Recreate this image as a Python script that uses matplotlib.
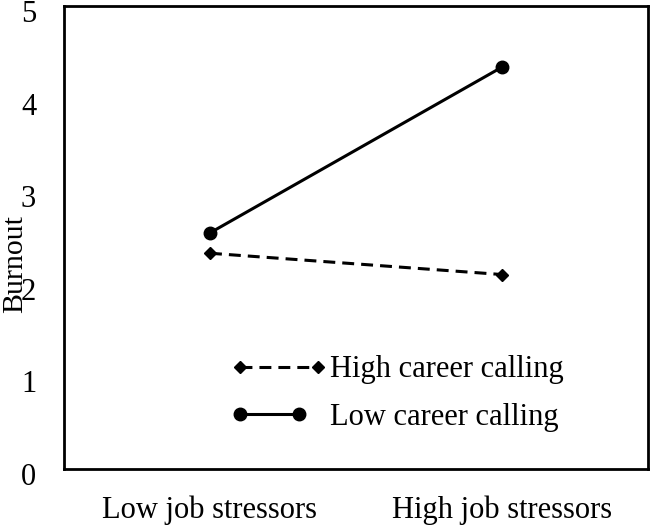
import matplotlib.pyplot as plt
import matplotlib.transforms as mtransforms
from matplotlib.legend_handler import HandlerLine2D

plt.rcParams['font.family'] = ['Liberation Serif', 'DejaVu Serif']

categories = ['Low job stressors', 'High job stressors']
high_calling = [2.33, 2.10]
low_calling = [2.55, 4.34]
y_ticks = [0, 1, 2, 3, 4, 5]


class ShortHandler(HandlerLine2D):
    # second legend entry has a shorter sample line
    def get_xdata(self, legend, xdescent, ydescent, width, height, fontsize):
        return super().get_xdata(legend, xdescent, ydescent, width * 0.755, height, fontsize)


fig = plt.figure(figsize=(6.5, 5.25), dpi=100)
ax = fig.add_axes([64 / 650, 1 - 469 / 525, 584 / 650, 463 / 525])

x = list(range(len(categories)))
h1, = ax.plot(x, high_calling, color='black', linestyle='--', dashes=(3.9, 2.3), linewidth=2.2,
              marker='D', markersize=6.5, label='High career calling')
h2, = ax.plot(x, low_calling, color='black', linestyle='-', linewidth=2.2,
              marker='o', markersize=9, label='Low career calling')

ax.set_xlim(-0.5, 1.5)
ax.set_ylim(0, 5)
ax.set_xticks(x)
ax.set_xticklabels(categories, fontsize=22)
ax.set_yticks(y_ticks)
ax.set_yticklabels([str(t) for t in y_ticks], fontsize=22)
ax.tick_params(length=0)
ax.tick_params(axis='x', pad=19)
ax.tick_params(axis='y', pad=20)
shift = mtransforms.ScaledTranslation(0, -5 / 100, fig.dpi_scale_trans)
for lab in ax.get_yticklabels():
    lab.set_transform(lab.get_transform() + shift)
for sp in ax.spines.values():
    sp.set_linewidth(2)

ax.set_ylabel('Burnout', fontsize=21.5)
ax.yaxis.set_label_coords(-0.062, 0.443)

ax.legend(handles=[h1, h2], loc='center left', bbox_to_anchor=(0.301, 0.163), frameon=False,
          fontsize=22, numpoints=2, handlelength=2.55, handletextpad=0.39, labelspacing=0.6,
          borderpad=0, borderaxespad=0,
          handler_map={h1: HandlerLine2D(marker_pad=0), h2: ShortHandler(marker_pad=0)})

fig.savefig('out.png', dpi=100)
